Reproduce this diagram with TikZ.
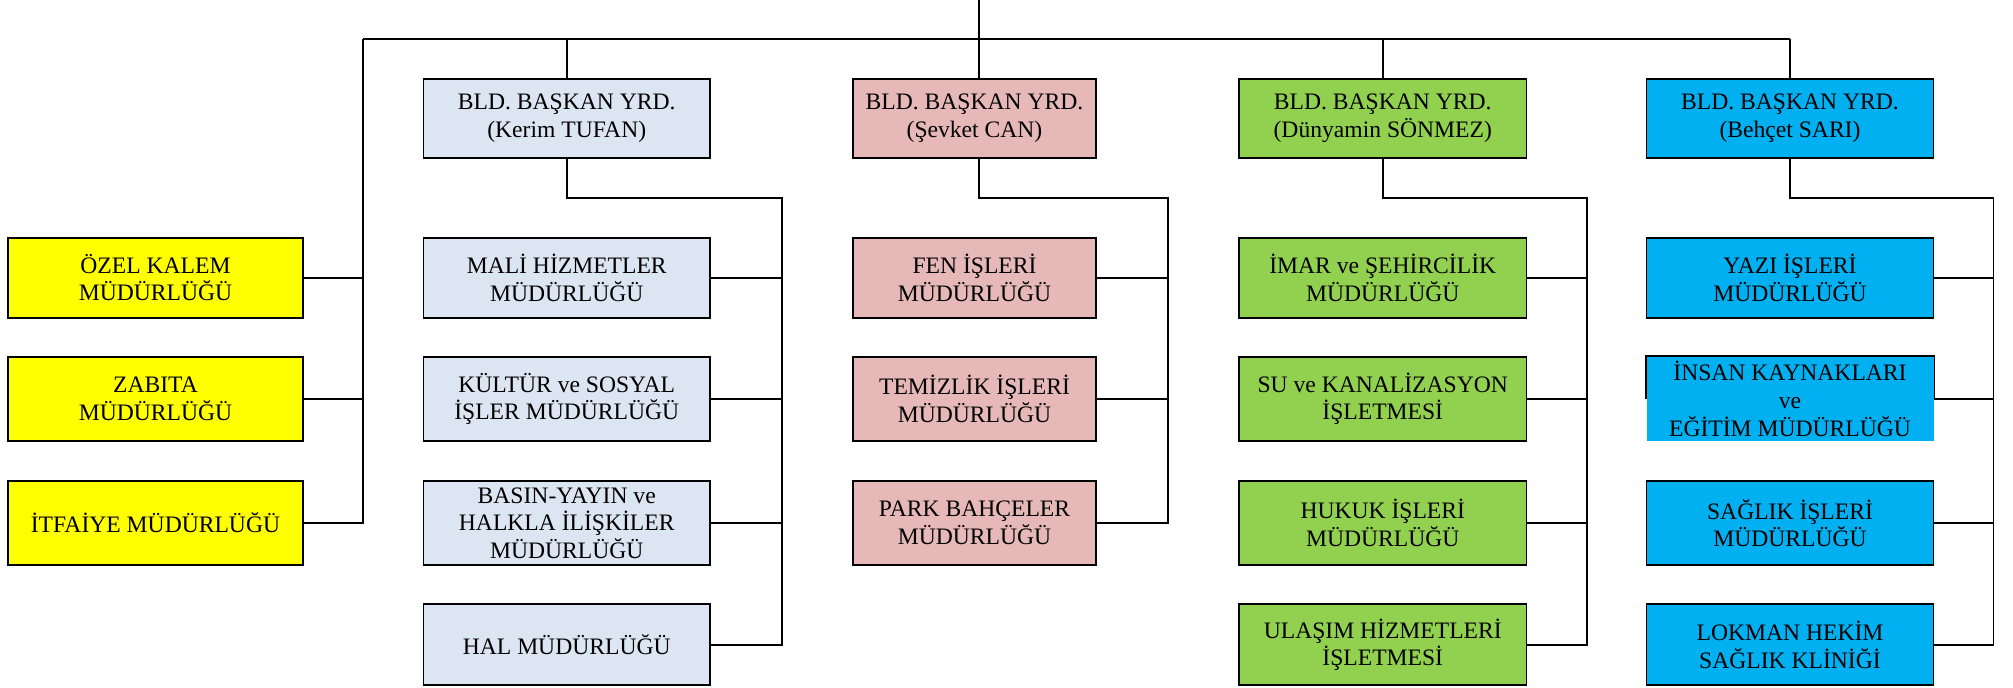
\documentclass[tikz,border=0pt]{standalone}
\usepackage{fontspec}
\setmainfont{Liberation Serif}
\definecolor{cyel}{HTML}{FFFF00}
\definecolor{cgray}{HTML}{DCE6F2}
\definecolor{cpink}{HTML}{E6B9B8}
\definecolor{cgreen}{HTML}{92D050}
\definecolor{cblue}{HTML}{00B0F0}
\tikzset{
  box/.style={draw=black, line width=0.8pt, align=center, inner sep=0pt,
    font=\fontsize{11.8}{13.8}\selectfont},
  conn/.style={draw=black, line width=0.8pt},
  hd/.style={minimum height=39.5pt},
  rA/.style={minimum height=40pt},
  rB/.style={minimum height=42pt},
  rC/.style={minimum height=42pt},
  rD/.style={minimum height=40.5pt},
  wY/.style={box, fill=cyel, minimum width=147.5pt},
  w1/.style={box, fill=cgray, minimum width=143.25pt},
  w2/.style={box, fill=cpink, minimum width=121.5pt},
  w3/.style={box, fill=cgreen, minimum width=143.75pt},
  w4/.style={box, fill=cblue, minimum width=143.5pt},
}
\begin{document}
\begin{tikzpicture}[x=0.5pt, y=-0.5pt]
\useasboundingbox (0,0) rectangle (2013,687);

% left (yellow) column
\node[wY, rA] (y1) at (155.5,277.7) {ÖZEL KALEM\\MÜDÜRLÜĞÜ};
\node[wY, rB] (y2) at (155.5,398.8) {ZABITA\\MÜDÜRLÜĞÜ};
\node[wY, rC] (y3) at (155.5,523) {İTFAİYE MÜDÜRLÜĞÜ};

% column 1
\node[w1, hd] (h1) at (566.75,118.3) {BLD. BAŞKAN YRD.\\(Kerim TUFAN)};
\node[w1, rA] (a1) at (566.75,277.7) {MALİ HİZMETLER\\MÜDÜRLÜĞÜ};
\node[w1, rB] (a2) at (566.75,398.8) {KÜLTÜR ve SOSYAL\\İŞLER MÜDÜRLÜĞÜ};
\node[w1, rC] (a3) at (566.75,523) {BASIN-YAYIN ve\\HALKLA İLİŞKİLER\\MÜDÜRLÜĞÜ};
\node[w1, rD] (a4) at (566.75,644.7) {HAL MÜDÜRLÜĞÜ};

% column 2
\node[w2, hd] (h2) at (974.5,118.3) {BLD. BAŞKAN YRD.\\(Şevket CAN)};
\node[w2, rA] (b1) at (974.5,277.7) {FEN İŞLERİ\\MÜDÜRLÜĞÜ};
\node[w2, rB] (b2) at (974.5,398.8) {TEMİZLİK İŞLERİ\\MÜDÜRLÜĞÜ};
\node[w2, rC] (b3) at (974.5,523) {PARK BAHÇELER\\MÜDÜRLÜĞÜ};

% column 3
\node[w3, hd] (h3) at (1382.75,118.3) {BLD. BAŞKAN YRD.\\(Dünyamin SÖNMEZ)};
\node[w3, rA] (c1) at (1382.75,277.7) {İMAR ve ŞEHİRCİLİK\\MÜDÜRLÜĞÜ};
\node[w3, rB] (c2) at (1382.75,398.8) {SU ve KANALİZASYON\\İŞLETMESİ};
\node[w3, rC] (c3) at (1382.75,523) {HUKUK İŞLERİ\\MÜDÜRLÜĞÜ};
\node[w3, rD] (c4) at (1382.75,644.7) {ULAŞIM HİZMETLERİ\\İŞLETMESİ};

% column 4
\node[w4, hd] (h4) at (1790,118.3) {BLD. BAŞKAN YRD.\\(Behçet SARI)};
\node[w4, rA] (d1) at (1790,277.7) {YAZI İŞLERİ\\MÜDÜRLÜĞÜ};
\node[w4, rB, draw=none] (d2) at (1790,398.8) {İNSAN KAYNAKLARI\\ve\\EĞİTİM MÜDÜRLÜĞÜ};
\draw[conn] (d2.west) |- (d2.north east) -- (d2.east);
\node[w4, rC] (d3) at (1790,523) {SAĞLIK İŞLERİ\\MÜDÜRLÜĞÜ};
\node[w4, rD] (d4) at (1790,644.7) {LOKMAN HEKİM\\SAĞLIK KLİNİĞİ};

% coordinates
\coordinate (top) at (979,0);
\coordinate (busL) at (363,39);
\coordinate (busR) at (1790,39);
\coordinate (v1) at (782,198);
\coordinate (v2) at (1168,198);
\coordinate (v3) at (1586.7,198);
\coordinate (v4) at (1993.5,198);

% top-level connectors
\draw[conn] (busL) -- (busR);
\draw[conn] (top) -- (top |- h2.north);
\draw[conn] (h1.north) -- (h1.north |- busL);
\draw[conn] (h3.north) -- (h3.north |- busL);
\draw[conn] (busR) -- (h4.north);
\draw[conn] (busL) |- (y3.east);
\draw[conn] (y1.east) -- (y1.east -| busL);
\draw[conn] (y2.east) -- (y2.east -| busL);

% column 1
\draw[conn] (h1.south) |- (v1) |- (a4.east);
\draw[conn] (a1.east) -- (a1.east -| v1);
\draw[conn] (a2.east) -- (a2.east -| v1);
\draw[conn] (a3.east) -- (a3.east -| v1);

% column 2
\draw[conn] (top |- h2.south) |- (v2) |- (b3.east);
\draw[conn] (b1.east) -- (b1.east -| v2);
\draw[conn] (b2.east) -- (b2.east -| v2);

% column 3
\draw[conn] (h3.south) |- (v3) |- (c4.east);
\draw[conn] (c1.east) -- (c1.east -| v3);
\draw[conn] (c2.east) -- (c2.east -| v3);
\draw[conn] (c3.east) -- (c3.east -| v3);

% column 4
\draw[conn] (h4.south) |- (v4) |- (d4.east);
\draw[conn] (d1.east) -- (d1.east -| v4);
\draw[conn] (d2.east) -- (d2.east -| v4);
\draw[conn] (d3.east) -- (d3.east -| v4);
\end{tikzpicture}
\end{document}
